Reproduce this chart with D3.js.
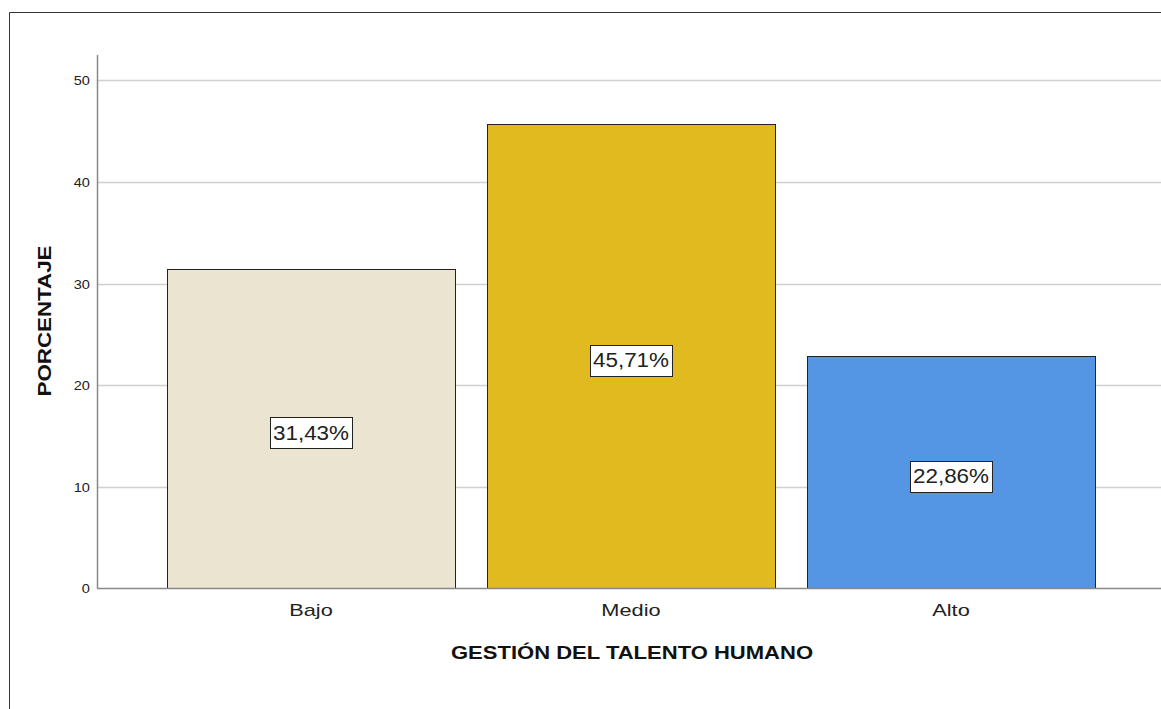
<!DOCTYPE html>
<html>
<head>
<meta charset="utf-8">
<script src="https://cdn.jsdelivr.net/npm/d3@7"></script>
<style>
  body { margin: 0; background: #fff; }
  svg { display: block; font-family: "Liberation Sans", Arial, sans-serif; }
</style>
</head>
<body>
<div id="chart"></div>
<script>
// data
var categories = ["Bajo", "Medio", "Alto"];
var percentages = [31.43, 45.71, 22.86];
var barColors = ["#EAE4D1", "#E0BA1E", "#5596E4"];
var yTicks = [0, 10, 20, 30, 40, 50];

var width = 1161, height = 709;
var margin = {top: 55, right: -4, bottom: 121, left: 97};

var svg = d3.select("#chart")
  .append("svg")
  .attr("width", width)
  .attr("height", height);

// the original renderer draws wider glyphs, stretch text to match
function widen(sel, k) {
  sel.each(function() {
    var len = this.getComputedTextLength();
    d3.select(this).attr("textLength", len * k).attr("lengthAdjust", "spacingAndGlyphs");
  });
}

// outer frame
svg.append("path")
  .attr("d", "M9.5," + height + " L9.5,12.5 L" + width + ",12.5")
  .attr("fill", "none")
  .attr("stroke", "#333")
  .attr("stroke-width", 1);

var x = d3.scaleBand()
  .domain(categories)
  .range([margin.left, width - margin.right])
  .paddingInner(0.1)
  .paddingOuter(0.21875);

var y = d3.scaleLinear()
  .domain([0, 52.5])
  .range([height - margin.bottom + 0.5, margin.top]);

// gridlines
svg.append("g")
  .selectAll("line")
  .data(yTicks.slice(1))
  .enter()
  .append("line")
  .attr("x1", margin.left)
  .attr("x2", width)
  .attr("y1", d => Math.round(y(d)) + 0.5)
  .attr("y2", d => Math.round(y(d)) + 0.5)
  .attr("stroke", "#d0d0d0")
  .attr("stroke-width", 1.5);

// y tick labels
svg.append("g")
  .selectAll("text")
  .data(yTicks)
  .enter()
  .append("text")
  .attr("x", margin.left - 7)
  .attr("y", d => y(d))
  .attr("dy", "0.36em")
  .attr("text-anchor", "end")
  .attr("font-size", 13.5)
  .attr("fill", "#222")
  .text(d => d)
  .call(widen, 1.08);

// bars
var bars = svg.append("g")
  .selectAll("g")
  .data(categories.map((c, i) => ({name: c, value: percentages[i], color: barColors[i]})))
  .enter()
  .append("g");

bars.append("rect")
  .attr("x", d => Math.round(x(d.name)) + 0.5)
  .attr("y", d => Math.round(y(d.value)) + 0.5)
  .attr("width", x.bandwidth())
  .attr("height", d => y(0) - Math.round(y(d.value)) - 0.5)
  .attr("fill", d => d.color)
  .attr("stroke", "#222")
  .attr("stroke-width", 1);

// value labels in boxes
bars.each(function(d) {
  var g = d3.select(this);
  var cx = x(d.name) + x.bandwidth() / 2;
  var cy = y(d.value / 2) + 4;
  var txt = g.append("text")
    .attr("x", cx)
    .attr("y", cy)
    .attr("dy", "0.36em")
    .attr("text-anchor", "middle")
    .attr("font-size", 19.5)
    .attr("fill", "#222")
    .text(d3.format(".2f")(d.value).replace(".", ",") + "%");
  widen(txt, 1.15);
  var w = +txt.attr("textLength");
  g.insert("rect", "text")
    .attr("x", Math.round(cx - w / 2 - 3) + 0.5)
    .attr("y", Math.round(cy - 15.5) + 0.5)
    .attr("width", Math.round(w + 6))
    .attr("height", 31)
    .attr("fill", "#fff")
    .attr("stroke", "#222")
    .attr("stroke-width", 1);
});

// axes lines
svg.append("line")
  .attr("x1", margin.left + 0.5).attr("x2", margin.left + 0.5)
  .attr("y1", margin.top).attr("y2", y(0))
  .attr("stroke", "#888").attr("stroke-width", 1.5);
svg.append("line")
  .attr("x1", margin.left).attr("x2", width)
  .attr("y1", y(0)).attr("y2", y(0))
  .attr("stroke", "#888").attr("stroke-width", 1.5);

// category labels
svg.append("g")
  .selectAll("text")
  .data(categories)
  .enter()
  .append("text")
  .attr("x", d => x(d) + x.bandwidth() / 2)
  .attr("y", 616)
  .attr("text-anchor", "middle")
  .attr("font-size", 17)
  .attr("fill", "#222")
  .text(d => d)
  .call(widen, 1.28);

// axis titles
svg.append("text")
  .attr("x", 632)
  .attr("y", 659)
  .attr("text-anchor", "middle")
  .attr("font-size", 18.5)
  .attr("font-weight", "bold")
  .attr("fill", "#111")
  .text("GESTIÓN DEL TALENTO HUMANO")
  .call(widen, 1.19);

svg.append("text")
  .attr("transform", "translate(51,321) rotate(-90)")
  .attr("text-anchor", "middle")
  .attr("font-size", 18)
  .attr("font-weight", "bold")
  .attr("fill", "#111")
  .text("PORCENTAJE")
  .call(widen, 1.24);
</script>
</body>
</html>
